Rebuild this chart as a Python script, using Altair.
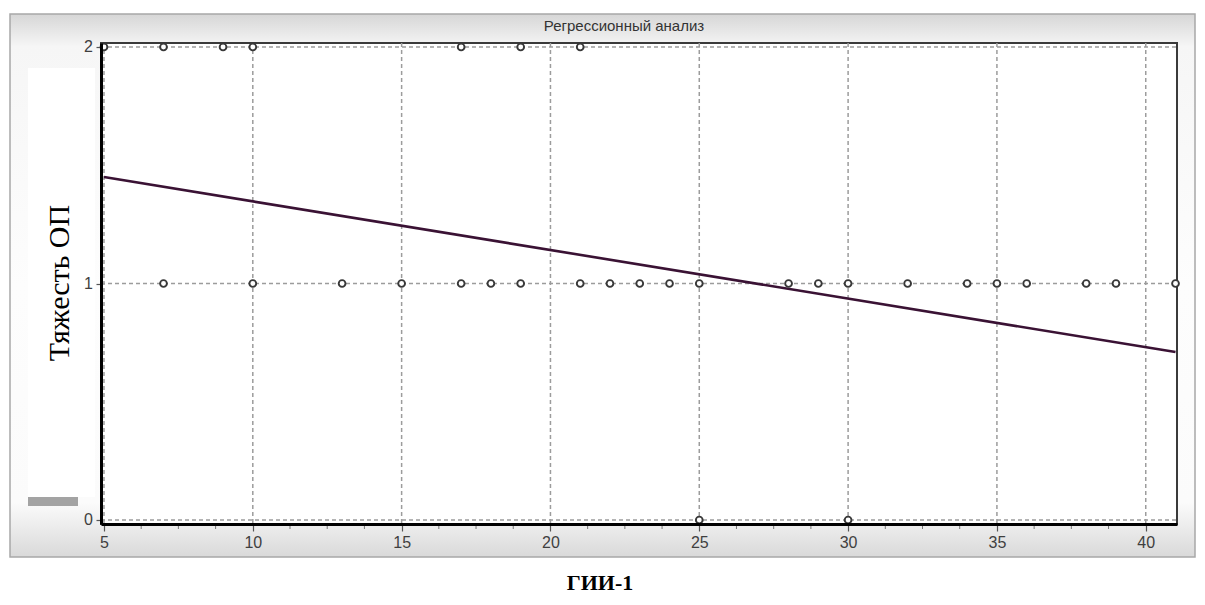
import altair as alt
import pandas as pd

# ---- data ----
x_at_2 = [5, 7, 9, 10, 17, 19, 21]
x_at_1 = [7, 10, 13, 15, 17, 18, 19, 21, 22, 23, 24, 25, 28, 29, 30, 32,
          34, 35, 36, 38, 39, 41]
x_at_0 = [25, 30]
line_x = [5, 41]
line_y = [1.45, 0.71]
x_ticks = [5, 10, 15, 20, 25, 30, 35, 40]
y_ticks = [0, 1, 2]
y_tick_labels = ["0", "1", "2"]
minor_x = [6.25, 7.5, 8.75, 11.25, 12.5, 13.75, 16.25, 17.5, 18.75,
           21.25, 22.5, 23.75, 26.25, 27.5, 28.75, 31.25, 32.5, 33.75,
           36.25, 37.5, 38.75]

W, H = 1076, 481
FONT = "Liberation Sans"

pts = pd.DataFrame({
    "x": x_at_2 + x_at_1 + x_at_0,
    "y": [2] * len(x_at_2) + [1] * len(x_at_1) + [0] * len(x_at_0),
})
reg = pd.DataFrame({"x": line_x, "y": line_y})
gx = pd.DataFrame({"x": x_ticks})
gy = pd.DataFrame({"y": y_ticks, "lab": y_tick_labels})
mx = pd.DataFrame({"x": minor_x})

xs = alt.Scale(domain=[4.9, 41.05], nice=False, zero=False)
ys = alt.Scale(domain=[-0.017, 2.017], nice=False, zero=False)

xaxis = alt.Axis(
    values=x_ticks, title=None, grid=False, domainColor="#000000",
    domainWidth=3, tickColor="#555555", tickSize=7, tickWidth=1.2,
    labelFont=FONT, labelFontSize=16, labelColor="#3f3f3f",
    labelPadding=3, zindex=10, labelFlush=False, labelOverlap=False)
yaxis = alt.Axis(
    values=y_ticks, title=None, grid=False, domainColor="#000000",
    domainWidth=3, tickColor="#555555", tickSize=5, tickWidth=1.2,
    labels=False, zindex=10)

X = alt.X("x:Q", scale=xs, axis=xaxis)
Y = alt.Y("y:Q", scale=ys, axis=yaxis)

dummy = pd.DataFrame({"a": [0]})

panel = alt.Chart(dummy).mark_rect(
    fill=alt.Gradient(
        gradient="linear", x1=0, x2=0, y1=0, y2=1,
        stops=[alt.GradientStop(color="#d6d6d6", offset=0),
               alt.GradientStop(color="#f6f6f6", offset=0.06),
               alt.GradientStop(color="#fdfdfd", offset=0.5),
               alt.GradientStop(color="#fbfbfb", offset=0.9),
               alt.GradientStop(color="#d9d9d9", offset=1)]),
    stroke="#a8a8a8", strokeWidth=1.5,
).encode(x=alt.value(-91), x2=alt.value(1094), y=alt.value(-29), y2=alt.value(514))

plot_bg = alt.Chart(dummy).mark_rect(fill="white", stroke="#3a3a3a", strokeWidth=2).encode(
    x=alt.value(0), x2=alt.value(W), y=alt.value(0), y2=alt.value(H))

left_white = alt.Chart(dummy).mark_rect(fill="white").encode(
    x=alt.value(-73), x2=alt.value(-6), y=alt.value(25), y2=alt.value(454))

grey_bar = alt.Chart(dummy).mark_rect(fill="#a3a3a3").encode(
    x=alt.value(-73), x2=alt.value(-23), y=alt.value(454), y2=alt.value(463))

grid_v = alt.Chart(gx).mark_rule(strokeDash=[4, 3], color="#9c9c9c", strokeWidth=1.5).encode(
    x=X, y=alt.value(0), y2=alt.value(H))
grid_h = alt.Chart(gy).mark_rule(strokeDash=[4, 3], color="#9c9c9c", strokeWidth=1.5).encode(
    y=Y, x=alt.value(0), x2=alt.value(W))

ylabels = alt.Chart(gy).mark_text(
    font=FONT, fontSize=16, color="#3f3f3f", align="right", baseline="middle",
).encode(y=Y, x=alt.value(-8), text="lab:N")

minor = alt.Chart(mx).mark_rule(color="#777777", strokeWidth=1).encode(
    x=X, y=alt.value(H + 1), y2=alt.value(H + 5))

line = alt.Chart(reg).mark_line(color="#3a1234", strokeWidth=2.6).encode(x=X, y=Y)

points = alt.Chart(pts).mark_point(
    shape="circle", size=46, filled=False, fill="white", fillOpacity=1,
    stroke="#383838", strokeWidth=1.9, opacity=1,
).encode(x=X, y=Y)

title_txt = alt.Chart(dummy).mark_text(
    text="Регрессионный анализ", font=FONT, fontSize=15, color="#333333",
    align="center", baseline="middle",
).encode(x=alt.value(523), y=alt.value(-17))

ytitle = alt.Chart(dummy).mark_text(
    text="Тяжесть ОП", font="Liberation Serif", fontSize=30, color="#000000",
    angle=270, align="center", baseline="middle",
).encode(x=alt.value(-41), y=alt.value(240))

xtitle = alt.Chart(dummy).mark_text(
    text="ГИИ-1", font="Liberation Serif", fontSize=22, fontWeight="bold",
    color="#000000", align="center", baseline="middle",
).encode(x=alt.value(499), y=alt.value(540))

chart = alt.layer(
    panel, plot_bg, left_white, grey_bar,
    grid_v, grid_h, minor, line, points, ylabels, title_txt, ytitle, xtitle,
).properties(
    width=W, height=H,
    autosize=alt.AutoSizeParams(type="none"),
    padding={"left": 101, "top": 43, "right": 28, "bottom": 81},
).configure_view(stroke=None).configure(background="white")

chart.save("out.html", embed_options={"renderer": "svg", "actions": False})
